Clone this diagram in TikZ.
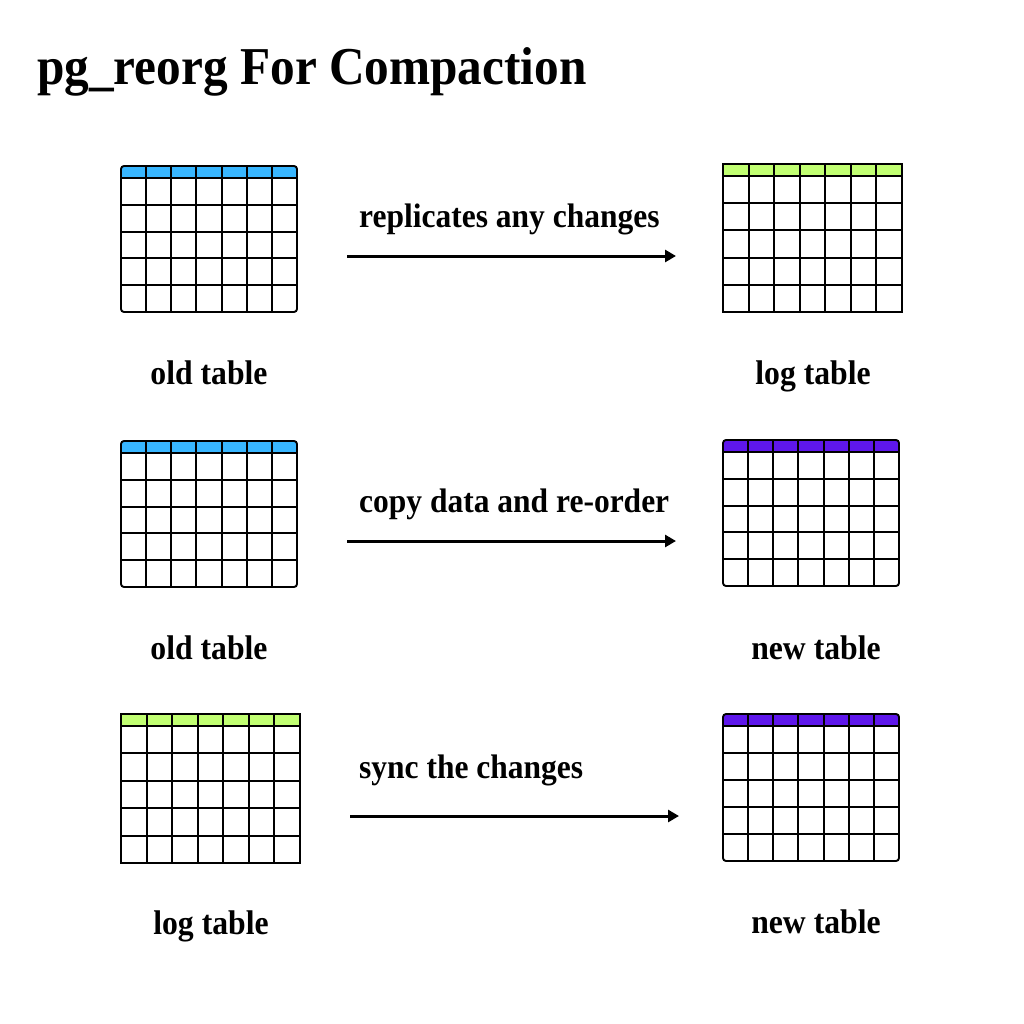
\documentclass[tikz,border=0pt]{standalone}
\usepackage{fontspec}
\usepackage{graphicx}
\setmainfont{Liberation Serif}
\usetikzlibrary{arrows.meta}
\definecolor{hblue}{HTML}{38B6FF}
\definecolor{hgreen}{HTML}{C1FF72}
\definecolor{hpurple}{HTML}{5E17EB}
\newcommand\tall[1]{\scalebox{1}[1.08]{#1}}
\newcommand\dbtable[7]{%
  \begin{scope}[shift={(#2,-#3)}]
    \begin{scope}
      \clip[rounded corners=#7] (0,0) rectangle (#4,-#5);
      \fill[#6] (0,0) rectangle (#4,-12);
    \end{scope}
    \foreach \i in {1,...,6} \draw[gridline] ({\i*#4/7},0) -- ({\i*#4/7},-#5);
    \draw[gridline] (0,-12) -- (#4,-12);
    \foreach \j in {1,...,4} \draw[gridline] (0,{-12-\j*(#5-12)/5}) -- (#4,{-12-\j*(#5-12)/5});
    \draw[gridline, rounded corners=#7] (0,0) rectangle (#4,-#5);
    \coordinate (#1) at ({#4/2},{-#5/2});
  \end{scope}}
\begin{document}
\begin{tikzpicture}[x=1pt,y=1pt,
  gridline/.style={line width=1.9pt, black},
  lbl/.style={font=\fontsize{31.7}{36}\selectfont\bfseries, anchor=base, inner sep=0pt},
  albl/.style={font=\fontsize{31.5}{36}\selectfont\bfseries, anchor=base west, inner sep=0pt},
  flow/.style={line width=3pt, -{Triangle[length=11pt,width=12pt]}}]
\useasboundingbox[fill=white] (0,0) rectangle (1024,-1024);
\node[font=\fontsize{49.3}{56}\selectfont\bfseries, anchor=base west, inner sep=0pt] (title) at (37,-85) {\tall{pg\_reorg For Compaction}};
% row 1
\dbtable{t1}{121}{166}{176}{146}{hblue}{3pt}
\dbtable{t2}{723}{164}{179}{148}{hgreen}{0pt}
\node[lbl] (l1) at (209,-384) {\tall{old table}};
\node[lbl] (l2) at (813,-384) {\tall{log table}};
\coordinate (a1s) at (347,-256);
\coordinate (a1e) at (676,-256);
\draw[flow] (a1s) -- (a1e);
\node[albl] (m1) at (359,-227) {\tall{replicates any changes}};
% row 2
\dbtable{t3}{121}{441}{176}{146}{hblue}{3pt}
\dbtable{t4}{723}{440}{176}{146}{hpurple}{3pt}
\node[lbl] (l3) at (209,-659) {\tall{old table}};
\node[lbl] (l4) at (816,-659) {\tall{new table}};
\coordinate (a2s) at (347,-541);
\coordinate (a2e) at (676,-541);
\draw[flow] (a2s) -- (a2e);
\node[albl] (m2) at (359,-512) {\tall{copy data and re-order}};
% row 3
\dbtable{t5}{121}{714}{179}{149}{hgreen}{0pt}
\dbtable{t6}{723}{714}{176}{147}{hpurple}{3pt}
\node[lbl] (l5) at (211,-934) {\tall{log table}};
\node[lbl] (l6) at (816,-933) {\tall{new table}};
\coordinate (a3s) at (350,-816);
\coordinate (a3e) at (679,-816);
\draw[flow] (a3s) -- (a3e);
\node[albl] (m3) at (359,-778) {\tall{sync the changes}};
\end{tikzpicture}
\end{document}
